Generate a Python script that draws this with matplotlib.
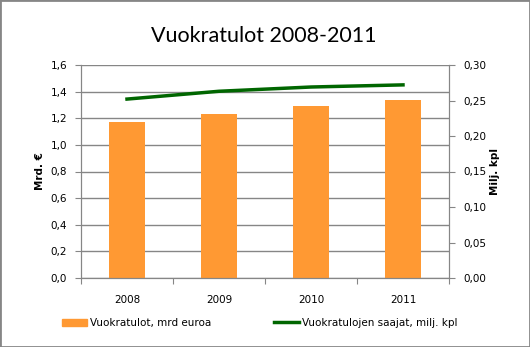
import matplotlib
matplotlib.use("Agg")
import matplotlib.pyplot as plt
import numpy as np
from matplotlib.lines import Line2D
from matplotlib.patches import Patch, Rectangle

# Data
years = ["2008", "2009", "2010", "2011"]
tulot = [1.17, 1.23, 1.29, 1.34]        # mrd euroa
saajat = [0.252, 0.263, 0.269, 0.272]   # milj. kpl
left_ticks = [0.0, 0.2, 0.4, 0.6, 0.8, 1.0, 1.2, 1.4, 1.6]
right_ticks = [0.0, 0.05, 0.10, 0.15, 0.20, 0.25, 0.30]

orange = "#ff9933"
green = "#006600"
gray = "#868686"

fig = plt.figure(figsize=(5.3, 3.47), dpi=100)
ax = fig.add_axes([81/530, 1 - 278/347, (449-81)/530, (278-65)/347])
ax2 = ax.twinx()

x = np.arange(len(years))
ax.bar(x, tulot, width=0.4, color=orange, zorder=2)
ax2.plot(x, saajat, color=green, lw=2.5, zorder=3)

ax.set_xlim(-0.5, len(years) - 0.5)
ax.set_ylim(0, 1.6)
ax2.set_ylim(0, 0.3)

ax.set_yticks(left_ticks)
ax.set_yticklabels([f"{v:.1f}".replace(".", ",") for v in left_ticks])
ax2.set_yticks(right_ticks)
ax2.set_yticklabels([f"{v:.2f}".replace(".", ",") for v in right_ticks])

# category boundaries as ticks, labels in the middle
ax.set_xticks(np.arange(-0.5, len(years)), minor=False)
ax.set_xticklabels([])
ax.set_xticks(x, minor=True)
ax.set_xticklabels(years, minor=True)
ax.tick_params(axis="x", which="minor", length=0, pad=12, labelsize=7.5)
ax.tick_params(axis="x", which="major", length=4, color=gray, direction="out")
ax.tick_params(axis="y", length=4, color=gray, labelsize=7.5, pad=6)
ax2.tick_params(axis="y", length=4, color=gray, labelsize=7.5, pad=6)

ax.grid(axis="y", color=gray, lw=1, zorder=0)
ax.set_axisbelow(True)
for a in (ax, ax2):
    a.spines["top"].set_visible(False)
    for s in ("left", "right", "bottom"):
        a.spines[s].set_color(gray)

ax.set_ylabel("Mrd. €", fontsize=7.5, fontweight="bold", labelpad=4)
ax2.set_ylabel("Milj. kpl", fontsize=7.5, fontweight="bold", labelpad=3)

fig.text(264/530, 1 - 36/347, "Vuokratulot 2008-2011", fontsize=15.5,
         family="Lato", ha="center", va="center")

# two legend entries placed separately
leg1 = fig.legend([Patch(color=orange)], ["Vuokratulot, mrd euroa"],
                  loc="center left", bbox_to_anchor=(62/530, 1 - 323/347),
                  frameon=False, fontsize=7.5, handlelength=2.4,
                  handletextpad=0.25, borderaxespad=0, borderpad=0)
leg2 = fig.legend([Line2D([], [], color=green, lw=2.5)],
                  ["Vuokratulojen saajat, milj. kpl"],
                  loc="center left", bbox_to_anchor=(274/530, 1 - 323/347),
                  frameon=False, fontsize=7.5, handlelength=2.4,
                  handletextpad=0.25, borderaxespad=0, borderpad=0)

fig.patches.append(Rectangle((0, 0), 1, 1, transform=fig.transFigure,
                             fill=False, edgecolor=gray, lw=2))

fig.savefig("out.png", dpi=100)
